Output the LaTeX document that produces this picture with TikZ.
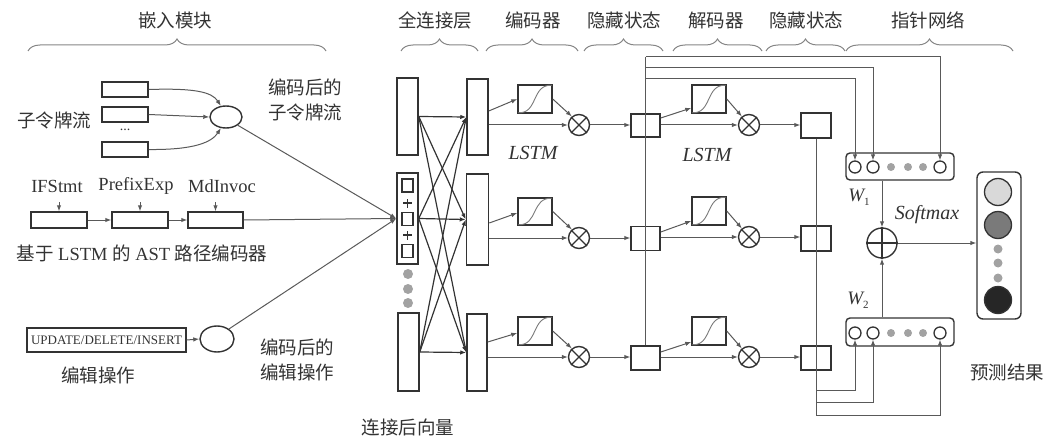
\documentclass[tikz,border=0pt]{standalone}
\usepackage{fontspec}
\setmainfont{Liberation Serif}
\newfontfamily\cjk{Noto Sans CJK SC}
\usetikzlibrary{arrows.meta,shapes.geometric,decorations.pathreplacing,calc}
\definecolor{boxc}{HTML}{333333}
\definecolor{linec}{HTML}{595959}
\definecolor{txtc}{HTML}{333333}
\definecolor{brc}{HTML}{858585}
\definecolor{dotc}{HTML}{A2A2A2}
\begin{document}
\begin{tikzpicture}[x=1pt,y=-1pt,
  every node/.style={text=txtc},
  lbl/.style={font=\cjk\fontsize{18.5}{25}\selectfont, align=center, inner sep=0},
  lat/.style={font=\fontsize{18.5}{22}\selectfont, inner sep=0},
  itl/.style={font=\itshape\fontsize{20}{22}\selectfont, inner sep=0},
  rb/.style={draw=boxc, line width=1.5pt, inner sep=0, rectangle},
  elp/.style={draw=boxc, line width=1.4pt, ellipse, inner sep=0},
  ln/.style={draw=linec, line width=1pt},
  fc/.style={draw=boxc, line width=1.2pt, -{Latex[length=6pt,width=4.5pt]}},
  arr/.style={ln, -{Latex[length=6pt,width=4.5pt]}},
  brace/.style={draw=brc, line width=1pt, decorate, decoration={brace, amplitude=12pt}},
  mul/.style={draw=boxc, line width=1.4pt, circle, minimum size=21pt, inner sep=0},
  sig/.style={draw=linec!80, line width=0.9pt},
  oc/.style={draw=boxc, line width=1.3pt, circle, minimum size=12pt, inner sep=0},
  gd/.style={fill=dotc, circle, minimum size=8pt, inner sep=0},
  bc/.style={draw=boxc, line width=1.3pt, circle, minimum size=27pt, inner sep=0},
  pl/.style={draw=boxc, line width=1.5pt},
]
\useasboundingbox (0,0) rectangle (1049,441);

% ---------- top labels and braces ----------
\node[lbl] (hEmb) at (175,20) {嵌入模块};
\node[lbl] (hFc)  at (435,20) {全连接层};
\node[lbl] (hEnc) at (533,20) {编码器};
\node[lbl] (hH1)  at (624,20) {隐藏状态};
\node[lbl] (hDec) at (716,20) {解码器};
\node[lbl] (hH2)  at (806,20) {隐藏状态};
\node[lbl] (hPtr) at (928,20) {指针网络};
\draw[brace] (28,51) -- (326,51);
\draw[brace] (401,51) -- (478,51);
\draw[brace] (486,51) -- (578,51);
\draw[brace] (584,51) -- (663,51);
\draw[brace] (673,51) -- (762,51);
\draw[brace] (766,51) -- (845,51);
\draw[brace] (846,51) -- (1013,51);

% ---------- sub-token stream ----------
\node[rb, minimum width=46pt, minimum height=15pt] (t1) at (125,89.5) {};
\node[rb, minimum width=46pt, minimum height=15pt] (t2) at (125,114.5) {};
\node[rb, minimum width=46pt, minimum height=15pt] (t3) at (125,149.5) {};
\node[font=\fontsize{14}{14}\selectfont, inner sep=0] (tdots) at (125,130) {...};
\node[lbl] (tlab) at (54,120) {子令牌流};
\node[elp, minimum width=32pt, minimum height=22pt] (enc1) at (226,117) {};
\node[lbl] (enc1lab) at (305,100) {编码后的\\子令牌流};
\draw[arr] (t1.east) .. controls (195,88) and (212,92) .. (enc1.115);
\draw[arr] (t2.east) -- (enc1.west);
\draw[arr] (t3.east) .. controls (195,150) and (212,142) .. (enc1.245);

% ---------- AST path ----------
\node[lat] (l1) at (57,186) {IFStmt};
\node[lat] (l2) at (136,186) {PrefixExp};
\node[lat] (l3) at (222,186) {MdInvoc};
\node[rb, minimum width=56pt, minimum height=16pt] (a1) at (59,220) {};
\node[rb, minimum width=56pt, minimum height=16pt] (a2) at (140,220) {};
\node[rb, minimum width=55pt, minimum height=16pt] (a3) at (215.5,220) {};
\coordinate (a1in) at (59,202);
\coordinate (a2in) at (140,202);
\coordinate (a3in) at (215.5,202);
\draw[arr] (a1in) -- (a1.north);
\draw[arr] (a2in) -- (a2.north);
\draw[arr] (a3in) -- (a3.north);
\draw[arr] (a1.east) -- (a2.west);
\draw[arr] (a2.east) -- (a3.west);
\node[lat] (astlab) at (142,253) {{\cjk 基于} LSTM {\cjk 的} AST {\cjk 路径编码器}};

% ---------- edit operation ----------
\node[rb, minimum width=159pt, minimum height=24pt, line width=1.3pt, font=\fontsize{13}{15}\selectfont] (u) at (106.5,340) {UPDATE/DELETE/INSERT};
\node[elp, minimum width=34pt, minimum height=26pt] (enc2) at (217,339) {};
\draw[arr] (u.east) -- (enc2.west);
\node[lbl] (ulab) at (98,375) {编辑操作};
\node[lbl] (enc2lab) at (297,360) {编码后的\\编辑操作};

% ---------- concatenation & fully connected ----------
\node[rb, minimum width=21pt, minimum height=77pt] (L1) at (407.5,116.5) {};
\node[rb, minimum width=21pt, minimum height=91pt] (c) at (407.5,218.5) {};
\node[rb, minimum width=21pt, minimum height=78pt] (L3) at (408.5,352) {};
\node[rb, minimum width=21pt, minimum height=76pt] (R1) at (477.5,117) {};
\node[rb, minimum width=22pt, minimum height=91pt] (R2) at (477.5,219.5) {};
\node[rb, minimum width=20pt, minimum height=77pt] (R3) at (477,352.5) {};
\node[rb, line width=1.2pt, minimum width=11pt, minimum height=13pt] (s1) at (407.5,185.5) {};
\node[rb, line width=1.2pt, minimum width=11pt, minimum height=13pt] (s2) at (407.5,219) {};
\node[rb, line width=1.2pt, minimum width=11pt, minimum height=13pt] (s3) at (407.5,251) {};
\coordinate (p1) at (407.5,203);
\coordinate (p2) at (407.5,235);
\draw[pl] ([xshift=-4.5pt]p1) -- ([xshift=4.5pt]p1) ([yshift=-4.5pt]p1) -- ([yshift=4.5pt]p1);
\draw[pl] ([xshift=-4.5pt]p2) -- ([xshift=4.5pt]p2) ([yshift=-4.5pt]p2) -- ([yshift=4.5pt]p2);
\node[gd, minimum size=10pt] (cd1) at (408,274) {};
\node[gd, minimum size=10pt] (cd2) at (408,289) {};
\node[gd, minimum size=10pt] (cd3) at (408,303) {};
\node[lbl] (clab) at (408,427) {连接后向量};

\draw[arr] (enc1.south east) -- (c.west);
\draw[arr] (a3.east) -- (c.west);
\draw[arr] (enc2.40) -- (c.west);

\foreach \s in {L1,c,L3}{
  \foreach \t in {R1,R2,R3}{
    \draw[fc] (\s.east) -- (\t.west);
  }
}

% ---------- encoder LSTM ----------
\node[rb, minimum width=34pt, minimum height=28pt] (e1s) at (535,99) {};
\node[rb, minimum width=34pt, minimum height=27pt] (e2s) at (535,211.5) {};
\node[rb, minimum width=34pt, minimum height=28pt] (e3s) at (535,331) {};
\node[mul] (e1x) at (579,125) {};
\node[mul] (e2x) at (579,238) {};
\node[mul] (e3x) at (579,357) {};
\node[rb, minimum width=29pt, minimum height=23pt] (h1) at (645.5,125.5) {};
\node[rb, minimum width=29pt, minimum height=24pt] (h2) at (645.5,238.5) {};
\node[rb, minimum width=29pt, minimum height=24pt] (h3) at (645.5,358) {};
\node[itl] (lstm1) at (533,153) {LSTM};

\draw[arr] (R1.east |- 0,111) -- (e1s.west);
\draw[arr] (R1.east |- e1x.west) -- (e1x.west);
\draw[arr] (R2.east |- 0,223) -- ([yshift=-1.5pt]e2s.west);
\draw[arr] (R2.east |- e2x.west) -- (e2x.west);
\draw[arr] (R3.east |- 0,342) -- ([yshift=-2pt]e3s.west);
\draw[arr] (R3.east |- e3x.west) -- (e3x.west);
\draw[arr] (e1s.east) -- (e1x.130);
\draw[arr] (e2s.east) -- (e2x.130);
\draw[arr] (e3s.east) -- (e3x.130);
\draw[arr] (e1x.east) -- (h1.west |- e1x.east);
\draw[arr] (e2x.east) -- (h2.west |- e2x.east);
\draw[arr] (e3x.east) -- (h3.west |- e3x.east);

% ---------- decoder LSTM ----------
\node[rb, minimum width=34pt, minimum height=28pt] (d1s) at (709,99) {};
\node[rb, minimum width=34pt, minimum height=28pt] (d2s) at (709,211) {};
\node[rb, minimum width=34pt, minimum height=28pt] (d3s) at (709,331) {};
\node[mul] (d1x) at (749,125) {};
\node[mul] (d2x) at (749,237) {};
\node[mul] (d3x) at (749,357) {};
\node[rb, minimum width=30pt, minimum height=25pt] (o1) at (816,125.5) {};
\node[rb, minimum width=30pt, minimum height=25pt] (o2) at (816,238.5) {};
\node[rb, minimum width=30pt, minimum height=24pt] (o3) at (816,358) {};
\node[itl] (lstm2) at (707,155) {LSTM};

\draw[arr] (h1.east |- 0,118) -- ([yshift=-9pt]d1s.west);
\draw[arr] (h1.east |- d1x.west) -- (d1x.west);
\draw[arr] (h2.east |- 0,232) -- ([yshift=-10pt]d2s.west);
\draw[arr] (h2.east |- d2x.west) -- (d2x.west);
\draw[arr] (h3.east |- 0,352) -- ([yshift=-11pt]d3s.west);
\draw[arr] (h3.east |- d3x.west) -- (d3x.west);
\draw[arr] (d1s.east) -- (d1x.130);
\draw[arr] (d2s.east) -- (d2x.130);
\draw[arr] (d3s.east) -- (d3x.130);
\draw[arr] (d1x.east) -- (o1.west |- d1x.east);
\draw[arr] (d2x.east) -- (o2.west |- d2x.east);
\draw[arr] (d3x.east) -- (o3.west |- d3x.east);

% sigmoid curves and multiply crosses
\foreach \n in {e1s,e2s,e3s,d1s,d2s,d3s}{
  \draw[sig] ([xshift=1pt,yshift=1pt]\n.south west) .. controls ($(\n.south west)+(21,0)$) and ($(\n.north west)+(14,0)$) .. ([xshift=-1pt,yshift=-1pt]\n.north east);
}
\foreach \n in {e1x,e2x,e3x,d1x,d2x,d3x}{
  \draw[draw=boxc, line width=1.3pt] (\n.45) -- (\n.225) (\n.135) -- (\n.315);
}

% ---------- pointer network ----------
\node[draw=boxc, line width=1.4pt, rounded corners=4pt, minimum width=108pt, minimum height=27pt, inner sep=0] (W1) at (900,166.5) {};
\node[draw=boxc, line width=1.4pt, rounded corners=4pt, minimum width=108pt, minimum height=28pt, inner sep=0] (W2) at (900,332) {};
\node[oc] (w1c1) at (855,167) {};
\node[oc] (w1c2) at (873,167) {};
\node[gd] (w1d1) at (891,167) {};
\node[gd] (w1d2) at (908,167) {};
\node[gd] (w1d3) at (923,167) {};
\node[oc] (w1c6) at (940,167) {};
\node[oc] (w2c1) at (855,333) {};
\node[oc] (w2c2) at (873,333) {};
\node[gd] (w2d1) at (891,333) {};
\node[gd] (w2d2) at (908,333) {};
\node[gd] (w2d3) at (923,333) {};
\node[oc] (w2c6) at (940,333) {};
\node[font=\itshape\fontsize{19}{22}\selectfont, inner sep=0] (W1lab) at (859,197) {W\raisebox{-4pt}{\upshape\fontsize{11}{11}\selectfont 1}};
\node[font=\itshape\fontsize{19}{22}\selectfont, inner sep=0] (W2lab) at (858,300) {W\raisebox{-4pt}{\upshape\fontsize{11}{11}\selectfont 2}};
\node[draw=boxc, line width=1.4pt, circle, minimum size=30pt, inner sep=0] (plus) at (882,243) {};
\draw[draw=boxc, line width=1.4pt] (plus.north) -- (plus.south) (plus.west) -- (plus.east);
\node[itl] (smx) at (927,215) {Softmax};

% encoder hidden states -> W1
\draw[ln] (h3.north) -- (h1.north |- 0,57);
\draw[arr] (h1.north |- 0,57) -| (w1c6.north);
\draw[arr] (h1.north |- 0,68) -| (w1c2.north);
\draw[arr] (h1.north |- 0,79) -| (w1c1.north);
% decoder hidden states -> W2
\draw[ln] (o1.south) -- (o1.south |- 0,415);
\draw[arr] (o1.south |- 0,415) -| (w2c6.south);
\draw[arr] (o1.south |- 0,402) -| (w2c2.south);
\draw[arr] (o1.south |- 0,390) -| (w2c1.south);

\draw[arr] (W1.south -| plus.north) -- (plus.north);
\draw[arr] (W2.north -| plus.south) -- (plus.south);

% ---------- output ----------
\node[draw=boxc, line width=1.4pt, rounded corners=6pt, minimum width=44pt, minimum height=147pt, inner sep=0] (out) at (999,245.5) {};
\draw[arr] (plus.east) -- (out.west |- plus.east);
\node[bc, fill=black!15] (oc1) at (998,192) {};
\node[bc, fill=black!52] (oc2) at (998,225) {};
\node[gd, minimum size=9pt] (od1) at (998,249) {};
\node[gd, minimum size=9pt] (od2) at (998,263) {};
\node[gd, minimum size=9pt] (od3) at (998,278) {};
\node[bc, fill=black!85] (oc3) at (998,300) {};
\node[lbl] (outlab) at (1007,372) {预测结果};
\end{tikzpicture}
\end{document}
